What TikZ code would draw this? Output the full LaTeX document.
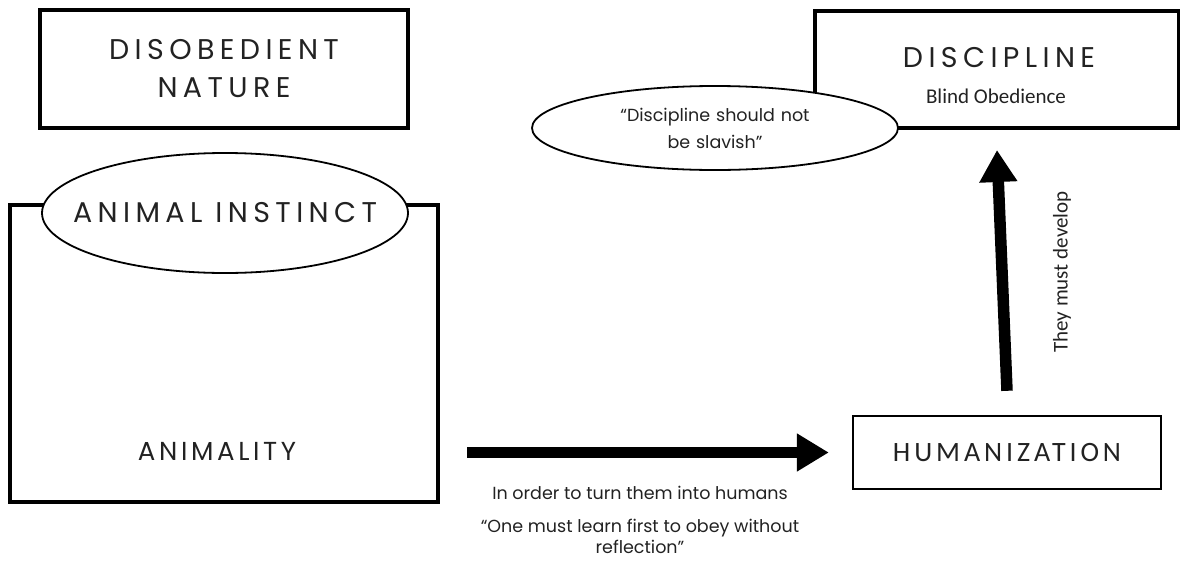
\documentclass[tikz,border=0pt]{standalone}
\usepackage{fontspec}
\usetikzlibrary{arrows.meta,shapes.geometric,calc}
\setmainfont{Poppins}
\newfontfamily\capsfont[LetterSpace=19]{Poppins}
\newfontfamily\capsfontb[LetterSpace=14]{Poppins}
\newfontfamily\quotefont{Poppins}
\newfontfamily\calfont{Carlito}
\newfontfamily\calcaps[LetterSpace=14]{Carlito}
\definecolor{ink}{HTML}{222222}
\begin{document}
\begin{tikzpicture}[x=1pt,y=-1pt,
  thickbox/.style={draw=black,line width=4pt,inner sep=0pt},
  thinbox/.style={draw=black,line width=2.4pt,inner sep=0pt},
  oval/.style={ellipse,draw=black,fill=white,line width=1.8pt,inner sep=0pt},
  captext/.style={text=ink,font=\capsfont\fontsize{28.5}{38}\selectfont,align=center},
  smalltext/.style={text=ink,font=\quotefont\fontsize{17.5}{21}\selectfont,align=center},
  caltext/.style={text=ink,font=\calfont\fontsize{21}{24}\selectfont},
  bigarrow/.style={line width=11.5pt,-{Triangle[length=32pt,width=36pt]}}]
\useasboundingbox (0,0) rectangle (1180,560);

% left column
\node[thickbox,minimum width=368pt,minimum height=118pt,captext] (nature) at (224,69)
  {DISOBEDIENT\\NATURE};
\node[thickbox,minimum width=428pt,minimum height=297pt] (animbox) at (224,353.5) {};
\node[oval,minimum width=366pt,minimum height=120pt] (instinct) at (225,213) {};
\node[captext] (instincttext) at (instinct.center) {ANIMAL INSTINCT};
\node[text=ink,font=\capsfontb\fontsize{26}{30}\selectfont] (animality) at (217,451) {ANIMALITY};

% right column
\node[thickbox,minimum width=364pt,minimum height=117pt] (discipline) at (997,69.5) {};
\node[captext] (disctext) at (999,58) {DISCIPLINE};
\node[caltext] (blind) at (996,96) {Blind Obedience};
\node[oval,minimum width=366pt,minimum height=84pt] (slavish) at (715,128) {};
\node[smalltext,text width=300pt,font=\quotefont\fontsize{17.5}{27}\selectfont]
  (slavishtext) at (slavish.center) {“Discipline should not\\be slavish”};

\node[thinbox,minimum width=308pt,minimum height=73pt,text=ink,
  font=\calcaps\fontsize{28}{30}\selectfont] (human) at (1007,452.5) {HUMANIZATION};

% connectors
\draw[bigarrow] ([xshift=27pt]animbox.east |- human.west) coordinate (from)
  -- ([xshift=-23pt]human.west) coordinate (to);
\draw[bigarrow] ([yshift=24pt]human.north) coordinate (up1)
  -- ([yshift=-20pt]discipline.south) coordinate (up2);

% labels
\node[smalltext] (turn) at (640,493) {In order to turn them into humans};
\node[smalltext] (obey) at (640,536) {“One must learn first to obey without\\reflection”};
\node[caltext,rotate=90] (develop) at (1062,272) {They must develop};
\end{tikzpicture}
\end{document}
